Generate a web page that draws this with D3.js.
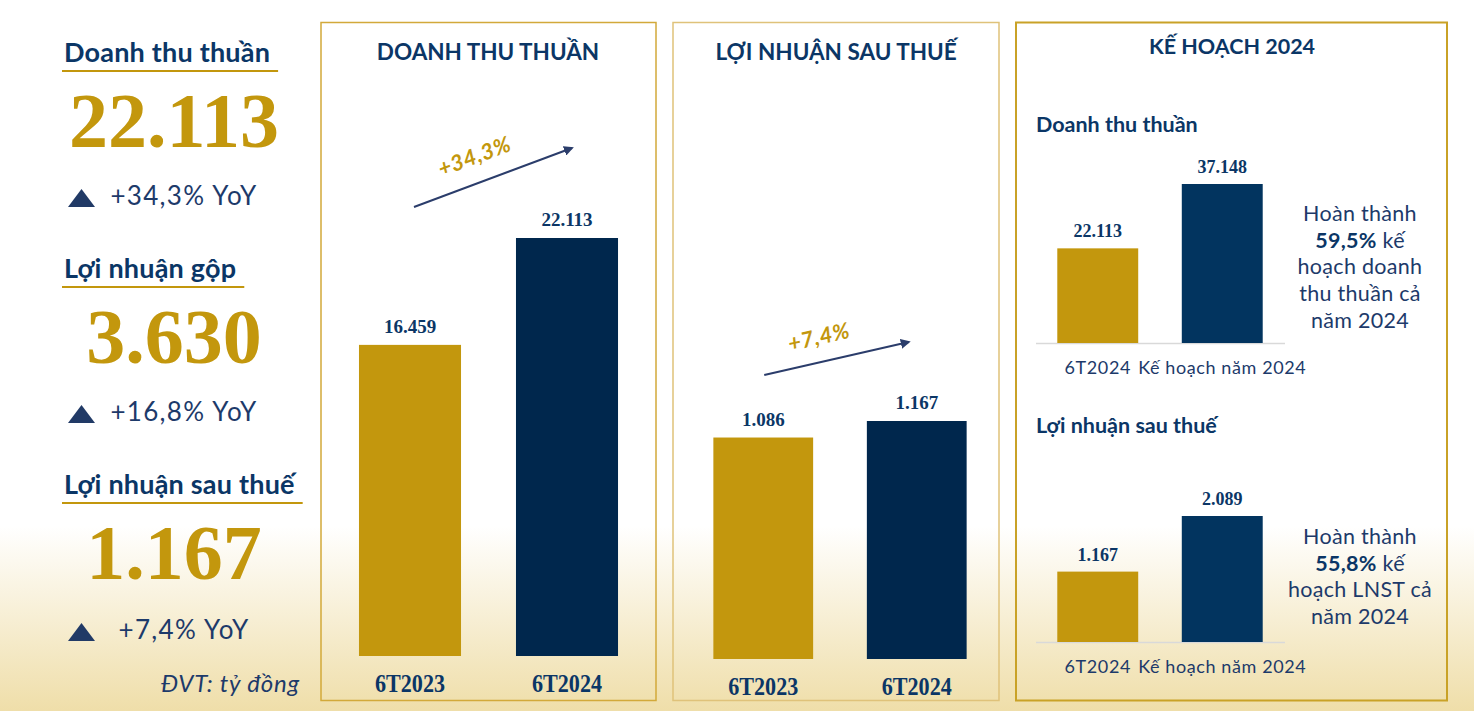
<!DOCTYPE html>
<html>
<head>
<meta charset="utf-8">
<script src="https://cdn.jsdelivr.net/npm/d3@7"></script>
<style>
  html, body { margin: 0; padding: 0; background: #fff; }
  svg { display: block; }
</style>
</head>
<body>
<div id="chart"></div>
<script>
// data (ty dong)
const kpiTitles = ["Doanh thu thuần", "Lợi nhuận gộp", "Lợi nhuận sau thuế"];
const kpiValues = [22113, 3630, 1167];
const kpiGrowth = ["+34,3% YoY", "+16,8% YoY", "+7,4% YoY"];

const periods = ["6T2023", "6T2024"];
const revenue = [16459, 22113];
const netProfit = [1086, 1167];
const growthLabels = ["+34,3%", "+7,4%"];

const planCats = ["6T2024", "Kế hoạch năm 2024"];
const planRevenue = [22113, 37148];
const planProfit = [1167, 2089];
const planPct = ["59,5%", "55,8%"];
const planRevNote = ["Hoàn thành", "{pct} kế", "hoạch doanh", "thu thuần cả", "năm 2024"];
const planProfitNote = ["Hoàn thành", "{pct} kế", "hoạch LNST cả", "năm 2024"];

const W = 1474, H = 711;
const gold = "#c3970d", navy = "#00274d", navy2 = "#02345f", ink = "#0b3666";
const sans = "Lato, 'Open Sans', sans-serif";
const serif = "'Liberation Serif', 'DejaVu Serif', serif";

const vn = d3.formatLocale({ decimal: ",", thousands: ".", grouping: [3], currency: ["", ""] });
const fmt = vn.format(",d");

let svg = d3.select("#chart").append("svg")
  .attr("width", W).attr("height", H)
  .attr("viewBox", `0 0 ${W} ${H}`);

// background: white fading to pale gold at the bottom
let defs = svg.append("defs");
let bg = defs.append("linearGradient").attr("id", "bg")
  .attr("x1", 0).attr("y1", 0).attr("x2", 0).attr("y2", 1);
bg.append("stop").attr("offset", "0.74").attr("stop-color", "#ffffff");
bg.append("stop").attr("offset", "1").attr("stop-color", "#efdea9");

defs.append("marker").attr("id", "arrow")
  .attr("viewBox", "0 0 10 10").attr("refX", 8).attr("refY", 5)
  .attr("markerWidth", 5).attr("markerHeight", 5)
  .attr("orient", "auto")
  .append("path").attr("d", "M0,0 L10,5 L0,10 z").attr("fill", "#2b3d6b");

svg.append("rect").attr("width", W).attr("height", H).attr("fill", "url(#bg)");

// ---------- left KPI column ----------
let kpi = svg.append("g");
kpiTitles.forEach((t, i) => {
  let y0 = 62 + i * 216;
  let title = kpi.append("text")
    .attr("x", 64).attr("y", y0)
    .style("font-family", sans).style("font-weight", 700)
    .style("font-size", "27px").style("letter-spacing", "0.2px").style("fill", ink)
    .text(t);
  let tw = title.node().getComputedTextLength();
  kpi.append("line")
    .attr("x1", 62).attr("x2", 64 + tw + 8)
    .attr("y1", y0 + 9).attr("y2", y0 + 9)
    .attr("stroke", gold).attr("stroke-width", 2);

  kpi.append("text")
    .attr("x", 174).attr("y", y0 + 85)
    .attr("text-anchor", "middle")
    .style("font-family", serif).style("font-weight", 700)
    .style("font-size", "78px").style("fill", gold)
    .text(fmt(kpiValues[i]));

  let gy = y0 + 143 + (i === 2 ? 2 : 0);
  kpi.append("path")
    .attr("d", `M68,${gy + 2} L95,${gy + 2} L81.5,${gy - 16} Z`)
    .attr("fill", "#213a66");
  kpi.append("text")
    .attr("x", 184).attr("y", gy)
    .attr("text-anchor", "middle")
    .style("font-family", sans).style("font-size", "26px")
    .style("letter-spacing", "1.3px")
    .style("fill", "#1d3a6a")
    .text(kpiGrowth[i]);
});

kpi.append("text")
  .attr("x", 300).attr("y", 692)
  .attr("text-anchor", "end")
  .style("font-family", sans).style("font-style", "italic")
  .style("font-size", "24px").style("letter-spacing", "0.8px")
  .style("fill", "#1d3a6a")
  .text("ĐVT: tỷ đồng");

// ---------- panel boxes ----------
const boxes = [
  { x: 321, w: 335, stroke: "#d2a93a", sw: 1.5 },
  { x: 673, w: 326, stroke: "#dfc27a", sw: 1.5 },
  { x: 1016, w: 431, stroke: "#c9a227", sw: 2 }
];
svg.selectAll("rect.box").data(boxes).enter().append("rect")
  .attr("class", "box")
  .attr("x", d => d.x).attr("y", 22.5)
  .attr("width", d => d.w).attr("height", 678)
  .attr("fill", "none")
  .attr("stroke", d => d.stroke).attr("stroke-width", d => d.sw);

function panelTitle(cx, y, txt, size) {
  svg.append("text")
    .attr("x", cx).attr("y", y).attr("text-anchor", "middle")
    .style("font-family", sans).style("font-weight", 700)
    .style("font-size", size + "px").style("fill", ink)
    .text(txt);
}

// bars for the two YoY panels
function yoyPanel(vals, xr, yBottom, yTop, growth, arrowY, arrowDx) {
  let g = svg.append("g");
  let x = d3.scaleBand().domain(periods).range(xr)
    .paddingInner(0.35).paddingOuter(0.175);
  let y = d3.scaleLinear().domain([0, d3.max(vals)]).range([yBottom, yTop]);
  let colors = [gold, navy];

  g.selectAll("rect").data(vals).enter().append("rect")
    .attr("x", (d, i) => x(periods[i]))
    .attr("y", d => y(d))
    .attr("width", x.bandwidth())
    .attr("height", d => y(0) - y(d))
    .attr("fill", (d, i) => colors[i]);

  g.selectAll("text.val").data(vals).enter().append("text")
    .attr("class", "val")
    .attr("x", (d, i) => x(periods[i]) + x.bandwidth() / 2)
    .attr("y", d => y(d) - 12)
    .attr("text-anchor", "middle")
    .style("font-family", serif).style("font-weight", 700)
    .style("font-size", "19px").style("fill", ink)
    .text(d => fmt(d));

  g.selectAll("text.cat").data(periods).enter().append("text")
    .attr("class", "cat")
    .attr("x", d => x(d) + x.bandwidth() / 2)
    .attr("y", yBottom + 36)
    .attr("text-anchor", "middle")
    .attr("textLength", 70).attr("lengthAdjust", "spacingAndGlyphs")
    .style("font-family", serif).style("font-weight", 700)
    .style("font-size", "25px").style("fill", ink)
    .text(d => d);

  // growth arrow between the bar tops
  let x1 = x(periods[0]) + x.bandwidth() / 2 + arrowDx[0];
  let x2 = x(periods[1]) + x.bandwidth() / 2 + arrowDx[1];
  g.append("line")
    .attr("x1", x1).attr("y1", arrowY[0])
    .attr("x2", x2).attr("y2", arrowY[1])
    .attr("stroke", "#2b3d6b").attr("stroke-width", 2)
    .attr("marker-end", "url(#arrow)");
  let ang = Math.atan2(arrowY[1] - arrowY[0], x2 - x1) * 180 / Math.PI;
  let mx = (x1 + x2) / 2 - 16, my = (arrowY[0] + arrowY[1]) / 2 - 14;
  g.append("text")
    .attr("transform", `translate(${mx},${my}) rotate(${ang})`)
    .attr("text-anchor", "middle")
    .style("font-family", sans).style("font-weight", 700).style("font-style", "italic")
    .style("font-size", "22px").style("letter-spacing", "0.5px").style("fill", gold)
    .text(growth);
}

panelTitle(488, 60, "DOANH THU THUẦN", 22.5);
yoyPanel(revenue, [331.5, 645.5], 656, 238, growthLabels[0], [207, 148], [4, 5]);

panelTitle(836, 60, "LỢI NHUẬN SAU THUẾ", 22.5);
yoyPanel(netProfit, [686.5, 993.5], 659, 421, growthLabels[1], [375, 342], [1, -8]);

// ---------- plan panel ----------
panelTitle(1232, 54, "KẾ HOẠCH 2024", 21.5);

function planBlock(label, labelY, vals, yBottom, yTop, pct, note, noteY) {
  let g = svg.append("g");
  g.append("text")
    .attr("x", 1036).attr("y", labelY)
    .style("font-family", sans).style("font-weight", 700)
    .style("font-size", "21.5px").style("fill", ink)
    .text(label);

  let x = d3.scaleBand().domain(planCats).range([1035.5, 1284.5])
    .paddingInner(0.35).paddingOuter(0.175);
  let y = d3.scaleLinear().domain([0, d3.max(vals)]).range([yBottom, yTop]);
  let colors = [gold, navy2];

  g.append("line")
    .attr("x1", 1036).attr("x2", 1285)
    .attr("y1", yBottom + 0.5).attr("y2", yBottom + 0.5)
    .attr("stroke", "#d9d9d9").attr("stroke-width", 1.5);

  g.selectAll("rect").data(vals).enter().append("rect")
    .attr("x", (d, i) => x(planCats[i]))
    .attr("y", d => y(d))
    .attr("width", x.bandwidth())
    .attr("height", d => y(0) - y(d))
    .attr("fill", (d, i) => colors[i]);

  g.selectAll("text.val").data(vals).enter().append("text")
    .attr("class", "val")
    .attr("x", (d, i) => x(planCats[i]) + x.bandwidth() / 2)
    .attr("y", d => y(d) - 11)
    .attr("text-anchor", "middle")
    .style("font-family", serif).style("font-weight", 700)
    .style("font-size", "18px").style("fill", ink)
    .text(d => fmt(d));

  g.selectAll("text.cat").data(planCats).enter().append("text")
    .attr("class", "cat")
    .attr("x", d => x(d) + x.bandwidth() / 2)
    .attr("y", yBottom + 31)
    .attr("text-anchor", "middle")
    .style("font-family", sans)
    .style("font-size", "18px").style("letter-spacing", "0.6px")
    .style("fill", "#1d3a6a")
    .text(d => d);

  let t = g.append("text")
    .attr("text-anchor", "middle")
    .style("font-family", sans).style("font-size", "21.5px")
    .style("letter-spacing", "0.3px")
    .style("fill", "#1d3a6a");
  note.forEach((line, i) => {
    let ts = t.append("tspan").attr("x", 1360).attr("y", noteY + i * 26.7);
    if (line.includes("{pct}")) {
      ts.append("tspan").style("font-weight", 700)
        .style("fill", ink).text(pct);
      ts.append("tspan").text(line.replace("{pct}", ""));
    } else {
      ts.text(line);
    }
  });
}

planBlock("Doanh thu thuần", 132, planRevenue, 343, 184, planPct[0], planRevNote, 221);
planBlock("Lợi nhuận sau thuế", 433, planProfit, 642, 516, planPct[1], planProfitNote, 544);
</script>
</body>
</html>
